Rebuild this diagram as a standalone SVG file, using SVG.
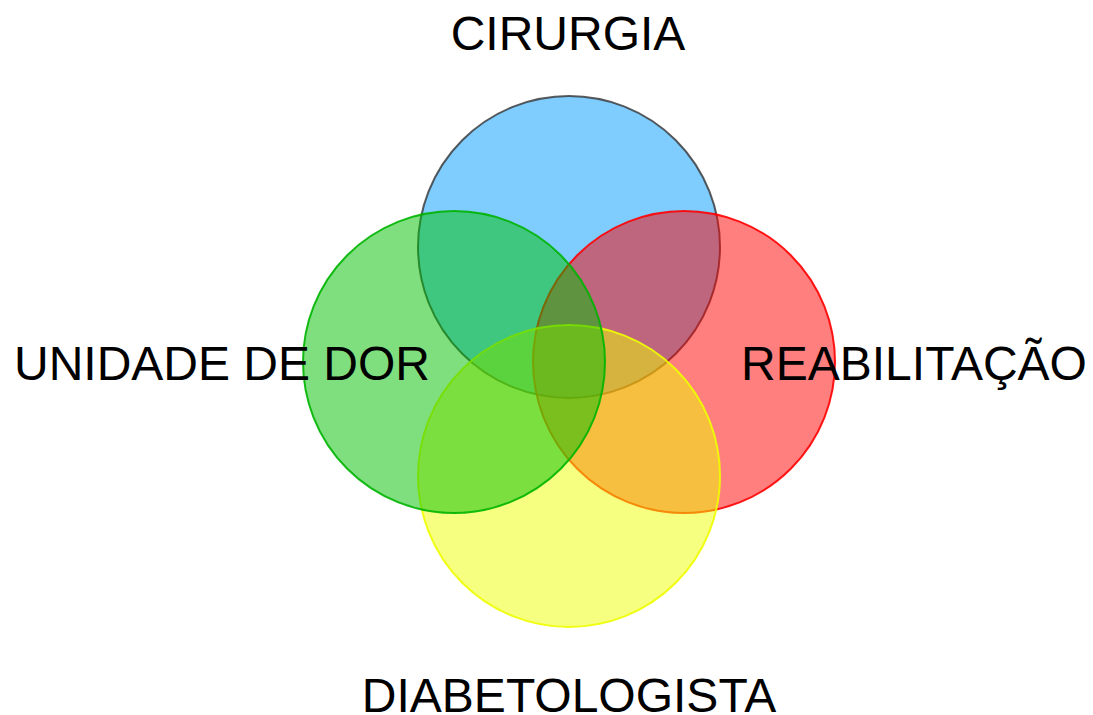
<svg xmlns="http://www.w3.org/2000/svg" width="1093" height="715" viewBox="0 0 1093 715">
<style>
.c{stroke-width:2}
.t{font-family:"Liberation Sans",Arial,sans-serif;font-size:48px;fill:#000;text-anchor:middle}
</style>
<rect width="1093" height="715" fill="#fff"/>
<g id="cirurgia"><circle class="c" cx="569" cy="247" r="151" fill="#0099ff" fill-opacity="0.5" stroke="#333" stroke-opacity="0.8"/></g>
<g id="reabilitacao"><circle class="c" cx="684" cy="362" r="151" fill="#ff0000" fill-opacity="0.5" stroke="#ff0000" stroke-opacity="0.9"/></g>
<g id="diabetologista"><circle class="c" cx="569" cy="476" r="151" fill="#eeff00" fill-opacity="0.5" stroke="#eeff00" stroke-opacity="0.9"/></g>
<g id="unidade-de-dor"><circle class="c" cx="454" cy="362" r="151" fill="#00c000" fill-opacity="0.5" stroke="#00b400" stroke-opacity="0.9"/></g>
<g id="labels">
<text class="t" x="568" y="50">CIRURGIA</text>
<text class="t" x="222" y="380">UNIDADE DE DOR</text>
<text class="t" x="914" y="380">REABILITAÇÃO</text>
<text class="t" x="569" y="712">DIABETOLOGISTA</text>
</g>
</svg>
